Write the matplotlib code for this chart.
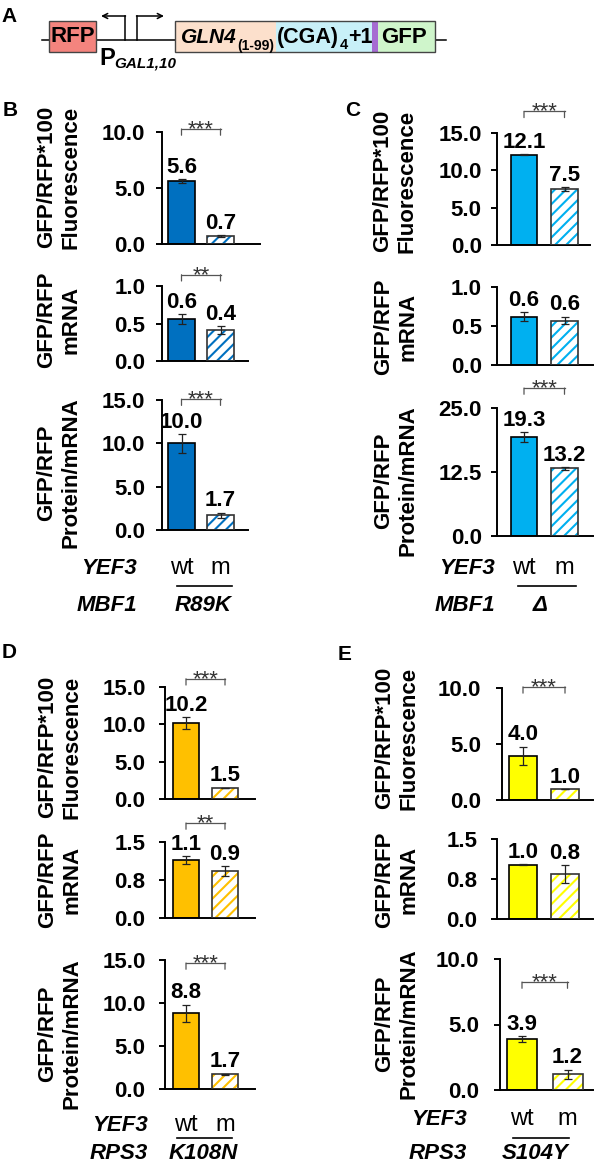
import matplotlib
matplotlib.use("Agg")
import matplotlib.pyplot as plt
from matplotlib.patches import Rectangle
from matplotlib.lines import Line2D
from matplotlib.transforms import blended_transform_factory

plt.rcParams['font.family'] = ['Liberation Sans', 'DejaVu Sans']
plt.rcParams['hatch.linewidth'] = 1.5

W, H, DPI = 594, 1165, 100
fig = plt.figure(figsize=(W / DPI, H / DPI), dpi=DPI)
fig.patch.set_facecolor('white')

# ---------------- data ----------------
groups = ['wt', 'm']

B_fluor = [5.64, 0.71];  B_fluor_err = [0.15, 0.05]
B_mrna = [0.56, 0.41];   B_mrna_err = [0.065, 0.055]
B_ratio = [10.0, 1.70];  B_ratio_err = [1.1, 0.3]

C_fluor = [12.1, 7.5];   C_fluor_err = [0.1, 0.3]
C_mrna = [0.62, 0.57];   C_mrna_err = [0.06, 0.05]
C_ratio = [19.3, 13.2];  C_ratio_err = [1.0, 0.3]

D_fluor = [10.2, 1.5];   D_fluor_err = [0.8, 0.04]
D_mrna = [1.14, 0.92];   D_mrna_err = [0.08, 0.1]
D_ratio = [8.8, 1.7];    D_ratio_err = [1.0, 0.1]

E_fluor = [3.96, 0.97];  E_fluor_err = [0.8, 0.03]
E_mrna = [1.02, 0.84];   E_mrna_err = [0.01, 0.17]
E_ratio = [3.9, 1.2];    E_ratio_err = [0.2, 0.35]

B_sig = ['***', '**', '***']
C_sig = ['***', None, '***']
D_sig = ['***', '**', '***']
E_sig = ['***', None, '***']

ticks_fluor_B = [0, 5, 10]
ticks_15 = [0, 5, 10, 15]
ticks_1 = [0, 0.5, 1.0]
ticks_25 = [0, 12.5, 25]
ticks_15b = [0, 0.75, 1.5]
ticks_10 = [0, 5, 10]

ylab_fluor = "GFP/RFP*100\nFluorescence"
ylab_mrna = "GFP/RFP\nmRNA"
ylab_ratio = "GFP/RFP\nProtein/mRNA"

colors = {'B': '#0070C0', 'C': '#00B0F0', 'D': '#FFC000', 'E': '#FFFF00'}

# ---------------- helpers ----------------
def fx(x):
    return x / W

def fy(y):
    return 1 - y / H

def make_ax(box, centers, bw, ticks, color, vals, errs, sig, sig_y, pad, ylab, ylab_xy):
    left, right, top, bottom = box
    ax = fig.add_axes([fx(left), fy(bottom), (right - left) / W, (bottom - top) / H])
    c0, c1 = centers
    s = c1 - c0
    ax.set_xlim((left - c0) / s, (right - c0) / s)
    ax.set_ylim(ticks[0], ticks[-1])
    ax.patch.set_alpha(0)
    for sp in ['top', 'right']:
        ax.spines[sp].set_visible(False)
    for sp in ['left', 'bottom']:
        ax.spines[sp].set_linewidth(1.4)
    ax.set_yticks(ticks)
    ax.set_yticklabels(['%.1f' % t for t in ticks], fontsize=16, fontweight='bold')
    ax.tick_params(axis='y', direction='out', length=4, width=1.4, pad=pad)
    ax.set_xticks([])
    x = [0, 1]
    w = bw / s
    ax.bar(x[0], vals[0], width=w, color=color, edgecolor='black', linewidth=1.2, zorder=2)
    ax.bar(x[1], vals[1], width=w, facecolor='white', edgecolor=color, hatch='///',
           linewidth=0, zorder=2)
    ax.bar(x[1], vals[1], width=w, facecolor='none', edgecolor='#333333', linewidth=1.2, zorder=3)
    ax.errorbar(x, vals, yerr=errs, fmt='none', ecolor='#222222', elinewidth=0.9,
                capsize=3.2, capthick=0.9, zorder=4, clip_on=False)
    for xi, v, e in zip(x, vals, errs):
        ax.annotate('%.1f' % v, xy=(xi, v + e), xytext=(0, 4.5), textcoords='offset points',
                    ha='center', va='baseline', fontsize=16, fontweight='bold',
                    annotation_clip=False)
    if sig is not None:
        ax.plot([0, 1], [sig_y, sig_y], color='#555555', lw=0.9, clip_on=False)
        for xi in x:
            ax.annotate('', xy=(xi, sig_y), xycoords='data',
                        xytext=(0, -4.5), textcoords='offset points',
                        arrowprops=dict(arrowstyle='-', color='#555555', lw=0.9,
                                        shrinkA=0, shrinkB=0),
                        annotation_clip=False)
        ax.annotate(sig, xy=(0.5, sig_y), xytext=(0, -4.5), textcoords='offset points',
                    ha='center', va='baseline', fontsize=16, color='#333333',
                    annotation_clip=False)
    fig.text(fx(ylab_xy[0]), fy(ylab_xy[1]), ylab, rotation=90, ha='center', va='center',
             multialignment='center', fontsize=16, fontweight='bold', linespacing=1.2)
    return ax


def bottom_labels(ax, yef_right, base1, base2, line, mut_label, lab2, mut_center):
    tr = blended_transform_factory(ax.transData, fig.transFigure)
    for i, g in enumerate(groups):
        fig.text(i, fy(base1), g, transform=tr, ha='center', va='baseline', fontsize=17)
    fig.text(fx(yef_right), fy(base1), 'YEF3', ha='right', va='baseline', fontsize=16,
             fontweight='bold', fontstyle='italic')
    fig.text(fx(yef_right), fy(base2), lab2, ha='right', va='baseline', fontsize=16,
             fontweight='bold', fontstyle='italic')
    fig.text(fx(mut_center), fy(base2), mut_label, ha='center', va='baseline', fontsize=16,
             fontweight='bold', fontstyle='italic')
    x0, x1, yl = line
    fig.add_artist(Line2D([fx(x0), fx(x1)], [fy(yl), fy(yl)], color='black', lw=1.2))


# ---------------- panel A (construct diagram) ----------------
axA = fig.add_axes([0, 0, 1, 1])
axA.set_xlim(0, W)
axA.set_ylim(H, 0)
axA.axis('off')
axA.plot([42, 446], [39.5, 39.5], color='black', lw=1.1, zorder=1)
axA.add_patch(Rectangle((49, 21), 47, 31, facecolor='#F4847E', edgecolor='#444444', lw=1.0, zorder=2))
axA.text(72.5, 37, 'RFP', ha='center', va='center', fontsize=16, fontweight='bold', zorder=3)
segs = [(175, 276, '#FCE0CC'), (276, 372, '#C8F0F8'), (372, 378, '#A66CD2'), (378, 435, '#CFF5CB')]
for a, b, c in segs:
    axA.add_patch(Rectangle((a, 21), b - a, 31, facecolor=c, edgecolor='none', zorder=2))
axA.add_patch(Rectangle((175, 21), 260, 31, facecolor='none', edgecolor='#444444', lw=1.0, zorder=3))
axA.plot([125, 125], [39.5, 16], color='black', lw=1.1)
axA.plot([137, 137], [39.5, 16], color='black', lw=1.1)
axA.annotate('', xy=(101, 16), xytext=(125.5, 16),
             arrowprops=dict(arrowstyle='->', lw=1.1, shrinkA=0, shrinkB=0, mutation_scale=9))
axA.annotate('', xy=(164, 16), xytext=(136.5, 16),
             arrowprops=dict(arrowstyle='->', lw=1.1, shrinkA=0, shrinkB=0, mutation_scale=9))
axA.text(99, 65, 'P', ha='left', va='baseline', fontsize=17, fontweight='bold')
axA.text(114, 68, 'GAL1,10', ha='left', va='baseline', fontsize=11, fontweight='bold',
         fontstyle='italic')

renderer = fig.canvas.get_renderer()

def chain(x, parts):
    for s, size, style, base in parts:
        t = axA.text(x, base, s, ha='left', va='baseline', fontsize=size, fontweight='bold',
                     fontstyle=style, zorder=4)
        bb = t.get_window_extent(renderer)
        x = bb.x1 + 0.5
    return x

chain(181, [('GLN4', 15, 'italic', 43), ('(1-99)', 10, 'normal', 50)])
chain(277, [('(CGA)', 15.5, 'normal', 43), ('4', 10.5, 'normal', 49), ('+1', 15.5, 'normal', 43)])
axA.text(381, 43, 'GFP', ha='left', va='baseline', fontsize=16, fontweight='bold', zorder=4)

for lab, x, y in [('A', 9, 16), ('B', 10, 111), ('C', 353, 111), ('D', 9, 652), ('E', 345, 654)]:
    fig.text(fx(x), fy(y), lab, ha='center', va='center', fontsize=15, fontweight='bold')

# ---------------- panel B ----------------
cB = (181.5, 220.5)
make_ax((162, 260, 132, 244), cB, 27, ticks_fluor_B, colors['B'], B_fluor, B_fluor_err,
        B_sig[0], 10.27, 8, ylab_fluor, (58.5, 177))
make_ax((162, 248, 286, 361), cB, 27, ticks_1, colors['B'], B_mrna, B_mrna_err,
        B_sig[1], 1.15, 8, ylab_mrna, (58.5, 320))
axB3 = make_ax((162, 248, 400, 530), cB, 27, ticks_15, colors['B'], B_ratio, B_ratio_err,
               B_sig[2], 15.1, 8, ylab_ratio, (58.5, 473))
bottom_labels(axB3, 137, 574, 611, (177, 232, 586), 'R89K', 'MBF1', 203)

# ---------------- panel C ----------------
cC = (524, 564.5)
make_ax((497, 590, 133, 245), cC, 26.5, ticks_15, colors['C'], C_fluor, C_fluor_err,
        C_sig[0], 17.9, 7, ylab_fluor, (395, 181))
make_ax((497, 593, 287, 365), cC, 26.5, ticks_1, colors['C'], C_mrna, C_mrna_err,
        C_sig[1], None, 7, ylab_mrna, (396, 327))
axC3 = make_ax((497, 593, 408, 536), cC, 26.5, ticks_25, colors['C'], C_ratio, C_ratio_err,
               C_sig[2], 28.9, 7, ylab_ratio, (396, 481))
bottom_labels(axC3, 495, 574, 611, (518, 576, 586), 'Δ', 'MBF1', 540)

# ---------------- panel D ----------------
cD = (186, 225)
make_ax((165, 255, 687, 799), cD, 26, ticks_15, colors['D'], D_fluor, D_fluor_err,
        D_sig[0], 16.1, 10, ylab_fluor, (59.5, 747))
make_ax((165, 255, 842, 918), cD, 26, ticks_15b, colors['D'], D_mrna, D_mrna_err,
        D_sig[1], 1.875, 10, ylab_mrna, (59.5, 880))
axD3 = make_ax((165, 255, 960, 1089), cD, 26, ticks_15, colors['D'], D_ratio, D_ratio_err,
               D_sig[2], 14.65, 10, ylab_ratio, (59.5, 1034))
bottom_labels(axD3, 148, 1131, 1159, (177, 232, 1138), 'K108N', 'RPS3', 203)

# ---------------- panel E ----------------
make_ax((502, 593, 688, 800), (523, 565), 28, ticks_10, colors['E'], E_fluor, E_fluor_err,
        E_sig[0], 10.1, 11, ylab_fluor, (396.5, 738))
make_ax((497, 593, 839, 919), (523, 565), 28, ticks_15b, colors['E'], E_mrna, E_mrna_err,
        E_sig[1], None, 10, ylab_mrna, (396.5, 880))
axE3 = make_ax((500, 593, 959, 1090), (522, 567.5), 30, ticks_10, colors['E'], E_ratio, E_ratio_err,
               E_sig[2], 8.24, 11, ylab_ratio, (396.5, 1024))
bottom_labels(axE3, 467, 1125, 1159, (513, 569, 1138), 'S104Y', 'RPS3', 535)

fig.savefig('out.png', dpi=DPI, facecolor='white')
